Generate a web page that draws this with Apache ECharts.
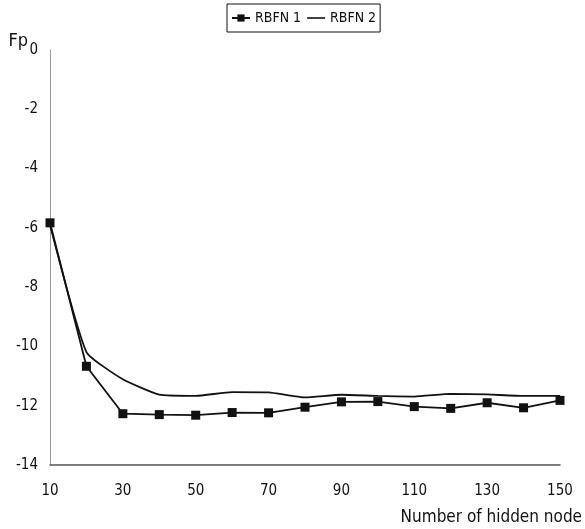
<!DOCTYPE html>
<html>
<head>
<meta charset="utf-8">
<script src="https://cdn.jsdelivr.net/npm/echarts@6/dist/echarts.min.js"></script>
<style>
  html, body { margin: 0; padding: 0; background: #fff; }
  #chart { width: 585px; height: 529px; }
</style>
</head>
<body>
<div id="chart"></div>
<script>
  // 隐含层节点数
  var nodes = ['10', '20', '30', '40', '50', '60', '70', '80', '90', '100', '110', '120', '130', '140', '150'];
  var rbfn1 = [-5.83, -10.67, -12.27, -12.30, -12.32, -12.23, -12.24, -12.05, -11.87, -11.86, -12.03, -12.09, -11.90, -12.07, -11.82];
  var rbfn2 = [-5.90, -10.19, -11.11, -11.63, -11.67, -11.54, -11.55, -11.72, -11.63, -11.67, -11.69, -11.60, -11.62, -11.67, -11.67];
  var yTicks = [0, -2, -4, -6, -8, -10, -12, -14];

  var font = "'DejaVu Sans Condensed', 'Liberation Sans Narrow', 'Liberation Sans', sans-serif";
  var chart = echarts.init(document.getElementById('chart'));

  var option = {
    backgroundColor: '#fff',
    animation: false,
    textStyle: { fontFamily: font, color: '#111' },
    grid: { left: 50, right: 25, top: 50, bottom: 64, containLabel: false },
    legend: {
      top: 4,
      left: 227,
      itemWidth: 18,
      itemHeight: 9,
      itemGap: 6,
      padding: [7, 4],
      borderColor: '#111',
      borderWidth: 1,
      textStyle: { fontFamily: font, fontSize: 14, color: '#111' },
      data: [
        { name: 'RBFN 1' },
        { name: 'RBFN 2', icon: 'path://M0,0 L18,0 L18,1.6 L0,1.6 Z' }
      ]
    },
    xAxis: {
      type: 'category',
      data: nodes,
      boundaryGap: false,
      position: 'bottom',
      name: 'Number of hidden node',
      nameLocation: 'end',
      nameGap: 22,
      nameMoveOverlap: false,
      nameTextStyle: {
        fontFamily: font, fontSize: 17, color: '#111',
        align: 'right', verticalAlign: 'top',
        padding: [44, 0, 0, 0]
      },
      axisLine: { onZero: false, lineStyle: { color: '#555', width: 1.5 } },
      axisTick: { show: false },
      axisLabel: { interval: 1, margin: 19, fontSize: 15, color: '#111', fontFamily: font },
      splitLine: { show: false }
    },
    yAxis: {
      type: 'value',
      min: yTicks[yTicks.length - 1],
      max: yTicks[0],
      interval: 2,
      name: 'Fp',
      nameLocation: 'end',
      nameGap: 9,
      nameMoveOverlap: false,
      nameTextStyle: {
        fontFamily: font, fontSize: 18, color: '#111',
        align: 'right', verticalAlign: 'middle',
        padding: [0, 22, 0, 0]
      },
      axisLine: { show: true, lineStyle: { color: '#999', width: 1 } },
      axisTick: { show: false },
      axisLabel: { margin: 12, fontSize: 15, color: '#111', fontFamily: font },
      splitLine: { show: false }
    },
    series: [
      {
        name: 'RBFN 1',
        type: 'line',
        data: rbfn1,
        symbol: 'rect',
        symbolSize: 9,
        itemStyle: { color: '#111' },
        lineStyle: { color: '#111', width: 1.8 }
      },
      {
        name: 'RBFN 2',
        type: 'line',
        data: rbfn2,
        symbol: 'none',
        smooth: 0.15,
        itemStyle: { color: '#111' },
        lineStyle: { color: '#111', width: 1.8 }
      }
    ]
  };

  chart.setOption(option);
</script>
</body>
</html>
